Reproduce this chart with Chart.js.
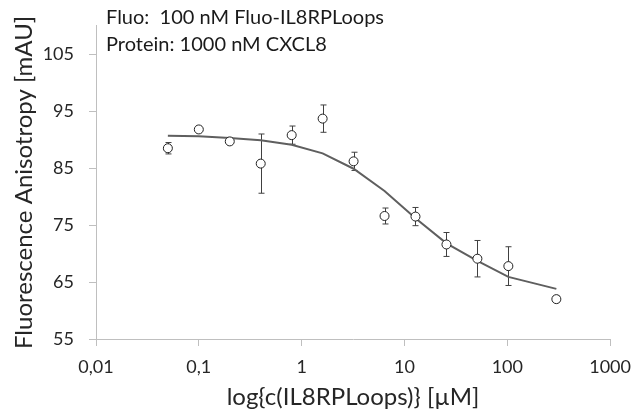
<!DOCTYPE html>
<html>
<head>
<meta charset="utf-8">
<script src="https://cdn.jsdelivr.net/npm/chart.js@4.4.1/dist/chart.umd.min.js"></script>
<style>
    html, body { margin: 0; padding: 0; background: #ffffff; }
    #wrap { width: 641px; height: 416px; position: relative; }
</style>
</head>
<body>
<div id="wrap"><canvas id="anisotropyChart"></canvas></div>
<script>
// values
const concentrations = [0.05, 0.1, 0.2, 0.4, 0.8, 1.6, 3.2, 6.4, 12.8, 25.6, 51.2, 102.4, 300];
const anisotropy = [88.5, 91.8, 89.7, 85.8, 90.8, 93.7, 86.2, 76.6, 76.5, 71.6, 69.1, 67.8, 62.0];
const anisotropyError = [1.0, 0.3, 0.3, 5.2, 1.6, 2.4, 1.6, 1.4, 1.6, 2.1, 3.2, 3.4, 0.6];
const fitValues = [90.7, 90.6, 90.3, 89.9, 89.1, 87.6, 84.9, 81.0, 76.2, 71.8, 68.7, 65.9, 63.8];

const xTicks = [0.01, 0.1, 1, 10, 100, 1000];
const xTickLabels = ['0,01', '0,1', '1', '10', '100', '1000'];
const yTicks = [55, 65, 75, 85, 95, 105];
const annotationLines = ['Fluo:  100 nM Fluo-IL8RPLoops', 'Protein: 1000 nM CXCL8'];

const fontFamily = 'Lato, "Open Sans", sans-serif';
const axisGray = '#bfbfbf';

// error bars go under the circles
const errorBarPlugin = {
    id: 'errorBars',
    beforeDatasetsDraw(chart) {
        const ctx = chart.ctx;
        const xScale = chart.scales.x;
        const yScale = chart.scales.y;
        ctx.save();
        ctx.strokeStyle = '#404040';
        ctx.lineWidth = 1;
        concentrations.forEach((c, i) => {
            const px = Math.round(xScale.getPixelForValue(c)) + 0.5;
            const top = yScale.getPixelForValue(anisotropy[i] + anisotropyError[i]);
            const bottom = yScale.getPixelForValue(anisotropy[i] - anisotropyError[i]);
            ctx.beginPath();
            ctx.moveTo(px, top);
            ctx.lineTo(px, bottom);
            ctx.moveTo(px - 3, top);
            ctx.lineTo(px + 3, top);
            ctx.moveTo(px - 3, bottom);
            ctx.lineTo(px + 3, bottom);
            ctx.stroke();
        });
        ctx.restore();
    }
};

const annotationPlugin = {
    id: 'annotationText',
    afterDraw(chart) {
        const ctx = chart.ctx;
        ctx.save();
        ctx.fillStyle = '#1a1a1a';
        ctx.font = '20px ' + fontFamily;
        ctx.textBaseline = 'middle';
        annotationLines.forEach((line, i) => {
            ctx.fillText(line, chart.chartArea.left + 10, 18 + i * 27);
        });
        ctx.restore();
    }
};

const ctx = document.getElementById('anisotropyChart').getContext('2d');

new Chart(ctx, {
    type: 'scatter',
    data: {
        datasets: [{
            label: 'Messwerte',
            data: concentrations.map((c, i) => ({ x: c, y: anisotropy[i] })),
            pointRadius: 4.5,
            pointBorderWidth: 1,
            pointBorderColor: '#202020',
            pointBackgroundColor: '#ffffff',
            showLine: false
        }, {
            label: 'Fit',
            data: concentrations.map((c, i) => ({ x: c, y: fitValues[i] })),
            showLine: true,
            borderColor: '#5f5f5f',
            borderWidth: 2,
            pointRadius: 0,
            tension: 0
        }]
    },
    options: {
        responsive: true,
        maintainAspectRatio: false,
        animation: false,
        layout: { padding: { top: 9, right: 26, left: 0, bottom: 0 } },
        plugins: {
            legend: { display: false },
            tooltip: { enabled: false }
        },
        scales: {
            x: {
                type: 'logarithmic',
                min: 0.01,
                max: 1000,
                afterBuildTicks: scale => {
                    scale.ticks = xTicks.map(v => ({ value: v }));
                },
                afterFit: scale => { scale.height = 77; },
                border: { color: axisGray, width: 1 },
                grid: { drawOnChartArea: false, drawTicks: true, tickLength: 7, color: axisGray },
                ticks: {
                    autoSkip: false,
                    maxRotation: 0,
                    padding: 10,
                    color: '#262626',
                    font: { family: fontFamily, size: 18 },
                    callback: (value, index) => xTickLabels[index]
                },
                title: {
                    display: true,
                    text: 'log{c(IL8RPLoops)} [µM]',
                    color: '#262626',
                    font: { family: fontFamily, size: 24 },
                    padding: { top: 2 }
                }
            },
            y: {
                min: 55,
                max: 110,
                afterBuildTicks: scale => {
                    scale.ticks = yTicks.map(v => ({ value: v }));
                },
                afterFit: scale => { scale.width = 96; },
                border: { color: axisGray, width: 1 },
                grid: { drawOnChartArea: false, drawTicks: true, tickLength: 7, color: axisGray },
                ticks: {
                    padding: 15,
                    color: '#262626',
                    font: { family: fontFamily, size: 18 }
                },
                title: {
                    display: true,
                    text: 'Fluorescence Anisotropy [mAU]',
                    color: '#262626',
                    font: { family: fontFamily, size: 24 },
                    padding: { top: 10, bottom: 0 }
                }
            }
        }
    },
    plugins: [errorBarPlugin, annotationPlugin]
});
</script>
</body>
</html>
